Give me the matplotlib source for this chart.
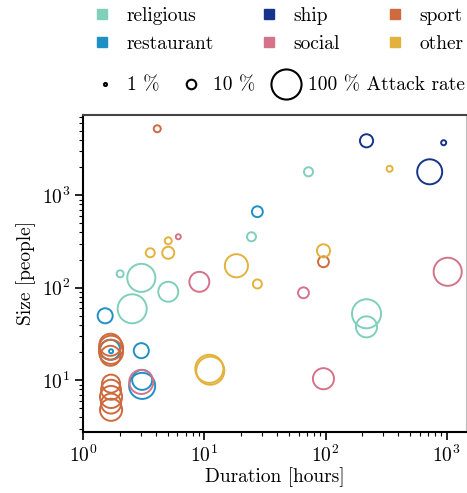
import matplotlib
matplotlib.use("Agg")
import matplotlib.pyplot as plt
from matplotlib.lines import Line2D

plt.rcParams["font.family"] = "serif"
plt.rcParams["font.serif"] = ["cmr10"]
plt.rcParams["mathtext.fontset"] = "cm"
plt.rcParams["axes.formatter.use_mathtext"] = True
plt.rcParams["axes.unicode_minus"] = False

# outbreak settings: duration [hours], size [people], attack rate [%]
categories = ["religious", "restaurant", "ship", "social", "sport", "other"]
colors = {
    "religious": "#7fcfbb",
    "restaurant": "#1f90c6",
    "ship": "#17348c",
    "social": "#d5728c",
    "sport": "#cd6a3e",
    "other": "#e3b23c",
}

religious_dur = [3.02, 2.54, 5.04, 2.02, 24.5, 72.4, 218, 218]
religious_size = [128, 59.3, 90.6, 141.6, 356, 1794, 52.4, 37.8]
religious_rate = [87, 93, 44, 5.4, 9, 9, 93, 49]

restaurant_dur = [1.52, 3.02, 3.07, 3.07, 27.4, 1.67, 1.70]
restaurant_size = [49.8, 20.9, 8.7, 10.1, 664, 21.4, 20.6]
restaurant_rate = [25, 25, 75, 44, 13, 44, 1.8]

ship_dur = [218, 944, 724]
ship_size = [3882, 3700, 1794]
ship_rate = [19, 2.8, 69]

social_dur = [9.1, 6.1, 65.8, 96.2, 1019, 3.02]
social_size = [116, 356, 88.3, 10.4, 149, 9.6]
social_rate = [44, 2.8, 13, 49, 87, 64]

sport_dur = [4.09, 96.2, 1.68, 1.70, 1.70, 1.68, 1.70, 1.70, 1.70, 1.70, 1.70]
sport_size = [5235, 191, 24.2, 22.5, 20.3, 18.4, 9.2, 7.9, 6.6, 5.6, 4.8]
sport_rate = [5.4, 13, 54, 64, 64, 44, 36, 44, 54, 44, 54]

other_dur = [3.58, 5.04, 5.04, 18.4, 27.4, 96.2, 338, 11.0, 11.2]
other_size = [239, 239, 322, 173, 110, 251, 1932, 13.3, 12.7]
other_rate = [9, 16, 5.4, 59, 9, 19, 4, 87, 87]

series = {
    "religious": (religious_dur, religious_size, religious_rate),
    "restaurant": (restaurant_dur, restaurant_size, restaurant_rate),
    "ship": (ship_dur, ship_size, ship_rate),
    "social": (social_dur, social_size, social_rate),
    "sport": (sport_dur, sport_size, sport_rate),
    "other": (other_dur, other_size, other_rate),
}

legend_rates = [1, 10, 100]
legend_rate_labels = ["1 %", "10 %", "100 % Attack rate"]
scale = 4.7  # marker area (pt^2) per percent attack rate

fig = plt.figure(figsize=(4.67, 4.93), dpi=100)
ax = fig.add_axes([0.178, 0.124, 0.82, 0.643])

for cat in categories:
    dur, size, rate = series[cat]
    ax.scatter(dur, size, s=[r * scale for r in rate], facecolors="none",
               edgecolors=colors[cat], linewidths=1.4)

ax.set_xscale("log")
ax.set_yscale("log")
ax.set_xlim(1, 1445)
ax.set_ylim(2.77, 7400)
ax.set_xlabel("Duration [hours]", fontsize=14, labelpad=1)
ax.set_ylabel("Size [people]", fontsize=14, labelpad=4)
ax.tick_params(which="major", length=5.5, width=1.2, labelsize=14)
ax.tick_params(which="minor", length=3, width=0.8)
ax.spines["left"].set_linewidth(1.5)
ax.spines["bottom"].set_linewidth(1.5)
ax.spines["top"].set_color("#444444")
ax.spines["top"].set_linewidth(1.5)
ax.spines["right"].set_color("#bbbbbb")

# category legend, one legend per column so the columns sit where they should
col_x = [0.1606, 0.518, 0.788]
for i, x in enumerate(col_x):
    cats = categories[2 * i:2 * i + 2]
    handles = [Line2D([], [], marker="s", ls="", color=colors[c], markersize=7)
               for c in cats]
    fig.legend(handles, cats, loc="upper left", bbox_to_anchor=(x, 1.021),
               frameon=False, fontsize=14, handletextpad=0.75,
               labelspacing=0.5, handlelength=1.0)

# attack-rate legend
size_handles = [Line2D([], [], marker="o", ls="", markerfacecolor="none",
                       markeredgecolor="black", markeredgewidth=1.5,
                       markersize=(r * scale) ** 0.5) for r in legend_rates]
fig.legend(size_handles, legend_rate_labels, ncol=3, loc="upper left",
           bbox_to_anchor=(0.155, 0.880), frameon=False, fontsize=14,
           handletextpad=0.33, columnspacing=0.78, handlelength=1.6)

fig.savefig("out.png", dpi=100)
